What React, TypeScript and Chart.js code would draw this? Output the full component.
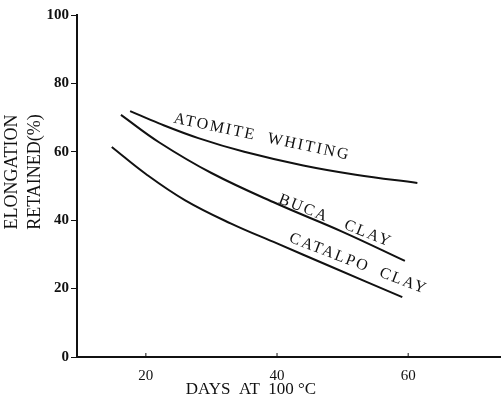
import React, { useEffect, useRef } from "react";
import { Chart, registerables } from "chart.js";

Chart.register(...registerables);

const atomiteDays = [17.6, 22, 28, 35, 44, 52, 61.4];
const atomiteValues = [71.9, 68.3, 64.0, 60.0, 56.0, 53.3, 50.9];
const bucaDays = [16.2, 22, 30, 40, 50, 59.5];
const bucaValues = [70.8, 62.8, 53.8, 44.8, 36.6, 28.1];
const catalpoDays = [14.8, 20, 26, 33, 40, 48, 59.1];
const catalpoValues = [61.4, 53.5, 45.8, 39.0, 33.2, 26.6, 17.5];
const xTickValues = [20, 40, 60];
const yTickValues = [0, 20, 40, 60, 80, 100];
const curveLabels = ["ATOMITE  WHITING", "BUCA   CLAY", "CATALPO  CLAY"];
const xTitle = "DAYS  AT  100 °C";
const yTitle = ["ELONGATION", "RETAINED(%)"];

const FONT = "'Liberation Serif', 'DejaVu Serif', serif";

const toPoints = (xs: number[], ys: number[]) => xs.map((x, i) => ({ x, y: ys[i] }));

const annotate = {
  id: "annotate",
  afterDraw(chart: any) {
    const ctx = chart.ctx;
    const xs = chart.scales.x;
    const ys = chart.scales.y;
    ctx.save();
    ctx.strokeStyle = "#111";
    ctx.lineWidth = 1;
    xTickValues.forEach((v) => {
      const px = xs.getPixelForValue(v);
      ctx.beginPath();
      ctx.moveTo(px, ys.bottom);
      ctx.lineTo(px, ys.bottom - 4);
      ctx.stroke();
    });
    ctx.fillStyle = "#111";
    ctx.textAlign = "center";
    ctx.textBaseline = "middle";
    ctx.font = `17px ${FONT}`;
    ctx.fillText(xTitle, 251, 390);
    ctx.save();
    ctx.font = `18px ${FONT}`;
    ctx.translate(12, 172);
    ctx.rotate(-Math.PI / 2);
    ctx.fillText(yTitle[0], 0, 0);
    ctx.fillText(yTitle[1], 0, 23);
    ctx.restore();
    const labelPos = [
      { x: 37.7, y: 64.3, a: 12 },
      { x: 48.9, y: 39.8, a: 21.5 },
      { x: 52.4, y: 27.2, a: 21 },
    ];
    ctx.font = `16px ${FONT}`;
    (ctx as any).letterSpacing = "2px";
    labelPos.forEach((p, i) => {
      ctx.save();
      ctx.translate(xs.getPixelForValue(p.x), ys.getPixelForValue(p.y));
      ctx.rotate((p.a * Math.PI) / 180);
      ctx.fillText(curveLabels[i], 0, 0);
      ctx.restore();
    });
    ctx.restore();
  },
};

export default function App() {
  const ref = useRef<HTMLCanvasElement>(null);
  useEffect(() => {
    if (!ref.current) return;
    const lineStyle = {
      borderColor: "#111",
      borderWidth: 2,
      pointRadius: 0,
      fill: false,
      tension: 0.4,
    };
    const chart = new Chart(ref.current, {
      type: "line",
      data: {
        datasets: [
          { label: curveLabels[0], data: toPoints(atomiteDays, atomiteValues), ...lineStyle },
          { label: curveLabels[1], data: toPoints(bucaDays, bucaValues), ...lineStyle },
          { label: curveLabels[2], data: toPoints(catalpoDays, catalpoValues), ...lineStyle },
        ],
      },
      options: {
        animation: false,
        responsive: false,
        layout: { padding: { top: 15, right: 2, left: 0, bottom: 0 } },
        plugins: { legend: { display: false }, tooltip: { enabled: false } },
        scales: {
          x: {
            type: "linear",
            min: 9.5,
            max: 74,
            afterBuildTicks: (s: any) => {
              s.ticks = xTickValues.map((v) => ({ value: v }));
            },
            afterFit: (s: any) => {
              s.height = 47;
            },
            border: { display: true, color: "#111", width: 2 },
            grid: { display: false, drawTicks: false },
            ticks: {
              color: "#111",
              padding: 10,
              maxRotation: 0,
              font: { family: FONT, size: 15 },
            },
          },
          y: {
            min: 0,
            max: 100,
            afterBuildTicks: (s: any) => {
              s.ticks = yTickValues.map((v) => ({ value: v }));
            },
            afterFit: (s: any) => {
              s.width = 77;
            },
            border: { display: true, color: "#111", width: 2 },
            grid: { drawOnChartArea: false, drawTicks: true, tickLength: 6, color: "#111", lineWidth: 1 },
            ticks: {
              color: "#111",
              padding: 2,
              font: { family: FONT, size: 15, weight: "bold" },
            },
          },
        },
      },
      plugins: [annotate],
    });
    return () => chart.destroy();
  }, []);
  return (
    <div style={{ position: "absolute", left: 0, top: 0, width: 502, height: 404, background: "#fff" }}>
      <canvas ref={ref} width={502} height={404} />
    </div>
  );
}
